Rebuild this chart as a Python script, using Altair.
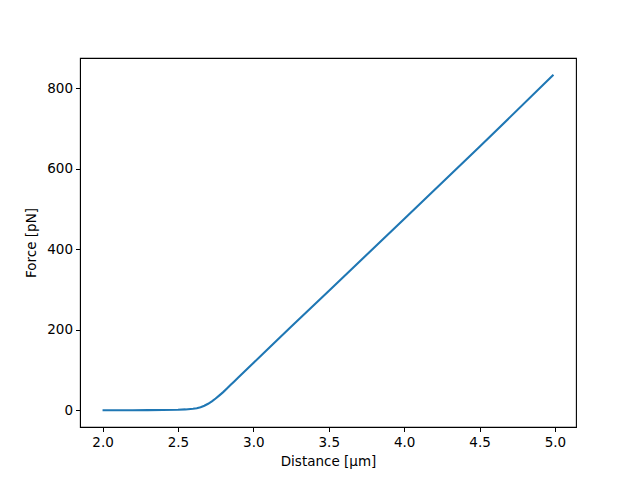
import altair as alt
import pandas as pd

distance = [2.0, 2.1, 2.2, 2.3, 2.4, 2.5, 2.55, 2.6, 2.625, 2.65, 2.675, 2.7,
            2.725, 2.75, 2.775, 2.8, 2.825, 2.85, 2.875, 2.9, 2.95, 3.0, 3.1,
            3.25, 3.5, 4.0, 4.5, 4.99]
force = [0.0, 0.0, 0.1, 0.3, 0.6, 1.2, 2.0, 3.5, 5.0, 7.5, 11.0, 16.0,
         22.0, 29.0, 37.0, 45.0, 54.0, 63.0, 72.0, 81.0, 99.0, 117.0, 153.0,
         207.0, 296.0, 475.0, 654.0, 833.0]
x_ticks = [2.0, 2.5, 3.0, 3.5, 4.0, 4.5, 5.0]
y_ticks = [0, 200, 400, 600, 800]

df = pd.DataFrame({"d": distance, "f": force})

font = "DejaVu Sans"

chart = alt.Chart(df).mark_line(color="#1f77b4", strokeWidth=2.1).encode(
    x=alt.X("d:Q", scale=alt.Scale(domain=[1.8505, 5.1395], nice=False, zero=False),
            axis=alt.Axis(title="Distance [μm]", values=x_ticks, format=".1f",
                          grid=False, tickSize=4.5, tickColor="black", domainColor="black",
                          labelColor="black", labelFontSize=13.5, labelFont=font,
                          titleFont=font, titleFontSize=13.5, titleFontWeight="normal",
                          titleColor="black", labelPadding=4, titlePadding=5)),
    y=alt.Y("f:Q", scale=alt.Scale(domain=[-41.65, 874.65], nice=False, zero=False),
            axis=alt.Axis(title="Force [pN]", values=y_ticks, format="d",
                          grid=False, tickSize=4.5, tickColor="black", domainColor="black",
                          labelColor="black", labelFontSize=13.5, labelFont=font,
                          titleFont=font, titleFontSize=13.5, titleFontWeight="normal",
                          titleColor="black", labelPadding=3, titlePadding=8)),
).properties(
    width=496, height=369,
    autosize=alt.AutoSizeParams(type="none"),
    padding={"left": 72, "top": 50, "right": 56, "bottom": 45},
).configure(
    background="white",
    view=alt.ViewConfig(stroke="black", strokeWidth=1.1),
)

chart.save("out.html", embed_options={"renderer": "svg", "actions": False})
